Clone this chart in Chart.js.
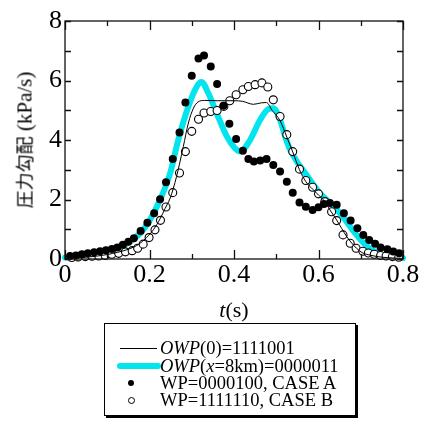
<!DOCTYPE html>
<html>
<head>
<meta charset="utf-8">
<script src="https://cdn.jsdelivr.net/npm/chart.js@4.4.1/dist/chart.umd.min.js"></script>
<style>
  html, body { margin: 0; padding: 0; background: #fff; }
  #wrap { position: relative; width: 421px; height: 421px; font-family: "Liberation Serif", "Times New Roman", serif; color: #000; }
  #chart { position: absolute; left: 0; top: 0; }
  .ylab { position: absolute; left: 24px; top: 140px; transform: translate(-50%, -50%) rotate(-90deg); white-space: nowrap; font-size: 21px; }
  .ylab .jp { font-family: "Noto Sans CJK JP", sans-serif; font-size: 18px; }
  .xlab { position: absolute; left: 234px; top: 310px; transform: translate(-50%, -50%); white-space: nowrap; font-size: 22px; }
  .legend { position: absolute; left: 104px; top: 323px; width: 252px; height: 93px; border: 1px solid #000; box-shadow: 2px 2px 0 #000; box-sizing: border-box; background: #fff; }
  .row { position: absolute; left: 0; width: 100%; height: 18px; line-height: 18px; font-size: 18.5px; white-space: nowrap; }
  .row .txt { position: absolute; left: 55px; top: 0; }
  .sym { position: absolute; }
</style>
</head>
<body>
<div id="wrap">
  <canvas id="chart" width="421" height="421"></canvas>
  <div class="ylab"><span class="jp">圧力勾配</span> (kPa/s)</div>
  <div class="xlab"><i>t</i>(s)</div>
  <div class="legend">
    <div class="row" style="top:15px">
      <span class="sym" style="left:15px;top:9px;width:37px;height:1px;background:#000"></span>
      <span class="txt"><i>OWP</i>(0)=1111001</span>
    </div>
    <div class="row" style="top:33px">
      <span class="sym" style="left:12px;top:6px;width:44px;height:6px;border-radius:3px;background:#00e5ee"></span>
      <span class="txt"><i>OWP</i>(<i>x</i>=8km)=0000011</span>
    </div>
    <div class="row" style="top:50px">
      <span class="sym" style="left:23px;top:6px;width:6px;height:6px;border-radius:50%;background:#000"></span>
      <span class="txt">WP=0000100, CASE A</span>
    </div>
    <div class="row" style="top:67px">
      <span class="sym" style="left:23px;top:6px;width:5px;height:5px;border-radius:50%;border:1px solid #000;background:#fff"></span>
      <span class="txt">WP=1111110, CASE B</span>
    </div>
  </div>
</div>
<script>
// values (time in s, gradient in kPa/s)

// WP=0000100, CASE A (filled dots)
const tA = [0.012, 0.026, 0.040, 0.054, 0.069, 0.083, 0.097, 0.111, 0.124, 0.137,
            0.150, 0.163, 0.179, 0.195, 0.211, 0.225, 0.239, 0.255, 0.271, 0.285,
            0.300, 0.316, 0.329, 0.345, 0.360, 0.375, 0.389, 0.405, 0.421, 0.434,
            0.447, 0.462, 0.477, 0.493, 0.509, 0.525, 0.539, 0.555, 0.570, 0.586,
            0.600, 0.613, 0.627, 0.643, 0.660, 0.676, 0.692, 0.706, 0.720, 0.734,
            0.747, 0.763, 0.777, 0.791];
const caseA = [0.10, 0.12, 0.16, 0.19, 0.23, 0.26, 0.29, 0.34, 0.39, 0.48,
               0.58, 0.70, 0.94, 1.22, 1.54, 2.01, 2.58, 3.36, 4.25, 5.26,
               6.16, 6.74, 6.84, 6.47, 5.88, 5.15, 4.55, 4.03, 3.64, 3.36,
               3.28, 3.31, 3.36, 3.16, 2.94, 2.60, 2.23, 1.90, 1.76, 1.65,
               1.74, 1.85, 1.88, 1.82, 1.54, 1.29, 1.03, 0.81, 0.64, 0.51,
               0.39, 0.33, 0.25, 0.19];

// WP=1111110, CASE B (open circles)
const tB = [0.016, 0.031, 0.048, 0.064, 0.080, 0.095, 0.111, 0.127, 0.143, 0.159,
            0.172, 0.185, 0.199, 0.213, 0.226, 0.239, 0.255, 0.271, 0.285, 0.300,
            0.316, 0.329, 0.345, 0.360, 0.376, 0.390, 0.405, 0.421, 0.434, 0.450,
            0.466, 0.480, 0.493, 0.509, 0.525, 0.539, 0.555, 0.570, 0.586, 0.600,
            0.615, 0.631, 0.643, 0.658, 0.675, 0.689, 0.705, 0.718, 0.732, 0.747,
            0.760, 0.775, 0.790];
const caseB = [0.05, 0.07, 0.08, 0.09, 0.10, 0.12, 0.16, 0.19, 0.24, 0.28,
               0.36, 0.50, 0.72, 0.98, 1.30, 1.75, 2.23, 2.89, 3.61, 4.29,
               4.70, 4.91, 4.96, 4.99, 5.13, 5.32, 5.52, 5.69, 5.80, 5.86,
               5.92, 5.78, 5.35, 4.79, 4.18, 3.61, 3.02, 2.64, 2.41, 2.19,
               1.93, 1.59, 1.29, 0.81, 0.53, 0.36, 0.26, 0.20, 0.16, 0.12,
               0.10, 0.08, 0.06];

// OWP(0)=1111001 (thin black line)
const t0 = [0, 0.05, 0.10, 0.15, 0.175, 0.193, 0.21, 0.225, 0.237, 0.249,
            0.264, 0.280, 0.292, 0.304, 0.315, 0.33, 0.36, 0.40, 0.42, 0.446,
            0.465, 0.477, 0.49, 0.509, 0.525, 0.539, 0.555, 0.57, 0.586, 0.60,
            0.615, 0.627, 0.643, 0.667, 0.69, 0.705, 0.722, 0.75, 0.8];
const owp0 = [0.02, 0.06, 0.15, 0.33, 0.50, 0.72, 1.00, 1.35, 1.70, 2.05,
              2.77, 3.78, 4.57, 5.07, 5.28, 5.33, 5.32, 5.32, 5.30, 5.20,
              5.25, 5.26, 5.00, 4.65, 4.10, 3.60, 3.00, 2.60, 2.35, 2.15,
              1.93, 1.65, 1.31, 0.75, 0.36, 0.20, 0.13, 0.06, 0.02];

// OWP(x=8km)=0000011 (thick cyan line)
const t8 = [0, 0.05, 0.10, 0.13, 0.15, 0.178, 0.201, 0.225, 0.249, 0.268,
            0.292, 0.312, 0.323, 0.339, 0.359, 0.383, 0.402, 0.415, 0.438, 0.462,
            0.481, 0.493, 0.509, 0.521, 0.533, 0.55, 0.568, 0.604, 0.634, 0.658,
            0.682, 0.706, 0.729, 0.76, 0.8];
const owp8 = [0.05, 0.10, 0.20, 0.40, 0.55, 0.87, 1.31, 1.99, 2.89, 4.00,
              5.13, 5.80, 5.95, 5.58, 4.90, 4.12, 3.73, 3.62, 4.00, 4.68,
              5.04, 5.07, 4.68, 4.12, 3.67, 3.25, 2.90, 2.20, 1.80, 1.42,
              0.95, 0.55, 0.28, 0.10, 0.03];

const xMinor = [0, 0.1, 0.2, 0.3, 0.4, 0.5, 0.6, 0.7, 0.8];
const yMinor = [0, 1, 2, 3, 4, 5, 6, 7, 8];

const pts = (t, v) => t.map((x, i) => ({ x, y: v[i] }));
const serif = "'Liberation Serif', 'Times New Roman', serif";

// frame + inward ticks on all four sides
const frameTicks = {
  id: 'frameTicks',
  afterDraw(chart) {
    const { ctx, chartArea: a, scales: { x, y } } = chart;
    ctx.save();
    ctx.strokeStyle = '#111';
    ctx.lineWidth = 1.3;
    ctx.strokeRect(a.left, a.top, a.right - a.left, a.bottom - a.top);
    ctx.beginPath();
    xMinor.forEach((v, k) => {
      const px = Math.round(x.getPixelForValue(v)) + 0.5;
      const len = k % 2 === 0 ? 9 : 5;
      ctx.moveTo(px, a.bottom); ctx.lineTo(px, a.bottom - len);
      ctx.moveTo(px, a.top);    ctx.lineTo(px, a.top + len);
    });
    yMinor.forEach(v => {
      const py = Math.round(y.getPixelForValue(v)) + 0.5;
      ctx.moveTo(a.left, py);  ctx.lineTo(a.left + 6, py);
      ctx.moveTo(a.right, py); ctx.lineTo(a.right - 6, py);
    });
    ctx.stroke();
    ctx.restore();
  }
};

new Chart(document.getElementById('chart'), {
  type: 'scatter',
  data: {
    datasets: [
      { label: 'WP=0000100, CASE A', data: pts(tA, caseA), order: 0,
        pointRadius: 4, pointBackgroundColor: '#000', pointBorderColor: '#000', pointBorderWidth: 0,
        showLine: false, clip: 5 },
      { label: 'OWP(0)=1111001', data: pts(t0, owp0), order: 1,
        showLine: true, borderColor: '#000', borderWidth: 1, pointRadius: 0,
        cubicInterpolationMode: 'monotone', clip: 5 },
      { label: 'WP=1111110, CASE B', data: pts(tB, caseB), order: 2,
        pointRadius: 4, pointBackgroundColor: '#fff', pointBorderColor: '#000', pointBorderWidth: 1.1,
        showLine: false, clip: 5 },
      { label: 'OWP(x=8km)=0000011', data: pts(t8, owp8), order: 3,
        showLine: true, borderColor: '#00e5ee', borderWidth: 6, pointRadius: 0,
        borderCapStyle: 'round', borderJoinStyle: 'round',
        cubicInterpolationMode: 'monotone', clip: 5 }
    ]
  },
  options: {
    responsive: false,
    animation: false,
    devicePixelRatio: 1,
    layout: { padding: { top: 21, right: 18, left: 0, bottom: 0 } },
    plugins: { legend: { display: false }, tooltip: { enabled: false } },
    scales: {
      x: {
        type: 'linear', min: 0, max: 0.8,
        afterFit(s) { s.height = 162; },
        grid: { display: false, drawTicks: false },
        border: { display: false },
        ticks: { stepSize: 0.2, padding: 1, color: '#000', maxRotation: 0,
                 font: { family: serif, size: 26 } }
      },
      y: {
        min: 0, max: 8,
        afterFit(s) { s.width = 65; },
        grid: { display: false, drawTicks: false },
        border: { display: false },
        ticks: { stepSize: 2, padding: 3, color: '#000',
                 font: { family: serif, size: 26 } }
      }
    }
  },
  plugins: [frameTicks]
});
</script>
</body>
</html>
